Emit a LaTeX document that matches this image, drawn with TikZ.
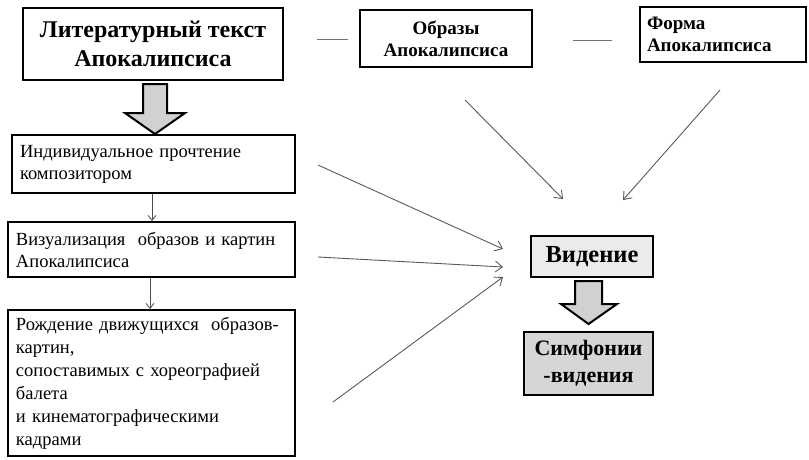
\documentclass[tikz,border=0pt]{standalone}
\usepackage{fontspec}
\setmainfont{Liberation Serif}
\usetikzlibrary{arrows.meta,calc}
\tikzset{
  box/.style={draw=black, line width=2pt, inner sep=0pt, fill=white},
  thin/.style={draw=black!65, line width=0.9pt, -{Straight Barb[length=7pt,width=11pt,line width=0.9pt]}},
  small/.style={draw=black!70, line width=0.8pt, -{Straight Barb[length=5pt,width=8pt,line width=0.8pt]}},
  block/.style={draw=black, line width=2pt, fill=black!18, line join=miter},
  dashln/.style={draw=black!55, line width=0.8pt}
}
\begin{document}
\begin{tikzpicture}[x=1pt,y=-1pt]
\useasboundingbox (0,0) rectangle (809,459);
% top row
\node[box, minimum width=260, minimum height=72, align=center,
  font=\fontsize{24}{29}\selectfont\bfseries] (lit) at (153,44)
  {Литературный текст\\Апокалипсиса};
\node[box, minimum width=172, minimum height=57, align=center,
  font=\fontsize{19}{22}\selectfont\bfseries] (obr) at (446,38.5)
  {Образы\\Апокалипсиса};
\node[box, minimum width=166, minimum height=55, text width=152, inner xsep=7pt, align=left,
  font=\fontsize{19}{22}\selectfont\bfseries] (form) at (723,34.5)
  {Форма\\Апокалипсиса};
% dashes
\coordinate (d1a) at (317,39); \coordinate (d1b) at (348,39);
\coordinate (d2a) at (573,40); \coordinate (d2b) at (612,40);
\draw[dashln] (d1a) -- (d1b);
\draw[dashln] (d2a) -- (d2b);
% left column
\node[box, minimum width=283, minimum height=58, text width=267, inner xsep=8pt, align=left,
  font=\fontsize{18.5}{22}\selectfont] (ind) at (153.5,164)
  {Индивидуальное прочтение\\композитором};
\node[box, minimum width=287, minimum height=55, text width=271, inner xsep=8pt, align=left,
  font=\fontsize{18.5}{22}\selectfont] (viz) at (151.5,249.5)
  {Визуализация\ \ образов и картин\\Апокалипсиса};
\node[box, minimum width=287, minimum height=146, text width=271, inner xsep=8pt, align=left,
  font=\fontsize{18.5}{23}\selectfont] (rozh) at (151.5,383)
  {Рождение движущихся\ \ образов-\\картин,\\сопоставимых с хореографией\\балета\\и кинематографическими\\кадрами};
% right
\node[box, fill=black!8, minimum width=122, minimum height=41, align=center,
  font=\fontsize{24.5}{27}\selectfont\bfseries] (vid) at (592,256.5) {Видение};
\node[box, fill=black!16, minimum width=129, minimum height=63, align=center,
  font=\fontsize{22}{27}\selectfont\bfseries] (sim) at (588.5,363.5) {Симфонии\\-видения};
% block arrows
\draw[block] ($(lit.south)+(-10,3)$) -- ($(lit.south)+(14,3)$) -- ($(lit.south)+(14,32)$) --
  ($(lit.south)+(32,32)$) -- ($(ind.north)+(1.5,0)$) -- ($(lit.south)+(-28,32)$) --
  ($(lit.south)+(-10,32)$) -- cycle;
\draw[block] ($(vid.south)+(-17,3)$) -- ($(vid.south)+(10,3)$) -- ($(vid.south)+(10,26)$) --
  ($(vid.south)+(25,26)$) -- ($(sim.north)+(0,-7)$) -- ($(vid.south)+(-31,26)$) --
  ($(vid.south)+(-17,26)$) -- cycle;
% small arrows
\draw[small] (ind.south -| 152,0) -- (viz.north -| 152,0);
\draw[small] (viz.south -| 150,0) -- (rozh.north -| 150,0);
% thin arrows
\coordinate (t1) at (503,249); \coordinate (t2) at (503,267); \coordinate (t3) at (503,277);
\coordinate (t4) at (563,199); \coordinate (t5) at (623,200);
\coordinate (s1) at (318,165); \coordinate (s2) at (318,257); \coordinate (s3) at (333,402);
\coordinate (s4) at (465,100); \coordinate (s5) at (720,90);
\draw[thin] (s1) -- (t1);
\draw[thin] (s2) -- (t2);
\draw[thin] (s3) -- (t3);
\draw[thin] (s4) -- (t4);
\draw[thin] (s5) -- (t5);
\end{tikzpicture}
\end{document}
